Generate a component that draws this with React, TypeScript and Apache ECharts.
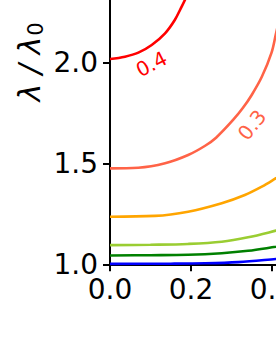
import React, { useEffect, useRef } from "react";
import * as echarts from "echarts";

const xTicks = [0, 0.2, 0.4];
const yTicks = [1.0, 1.5, 2.0];

const curve04: [number, number][] = [
  [0, 2.018], [0.037, 2.03], [0.07, 2.05], [0.103, 2.088], [0.136, 2.146], [0.16, 2.212],
  [0.177, 2.278], [0.185, 2.311], [0.195, 2.36],
];
const curve03: [number, number][] = [
  [0, 1.476], [0.07, 1.479], [0.136, 1.501], [0.193, 1.542], [0.235, 1.588], [0.262, 1.628],
  [0.304, 1.716], [0.328, 1.775], [0.35, 1.84], [0.375, 1.93], [0.399, 2.05], [0.41, 2.145], [0.42, 2.23],
];
const curve02: [number, number][] = [
  [0, 1.236], [0.111, 1.24], [0.193, 1.261], [0.276, 1.303], [0.333, 1.344], [0.375, 1.385],
  [0.41, 1.427], [0.42, 1.44],
];
const curve015: [number, number][] = [
  [0, 1.095], [0.1, 1.097], [0.193, 1.101], [0.276, 1.112], [0.341, 1.134], [0.41, 1.167], [0.42, 1.173],
];
const curve01: [number, number][] = [
  [0, 1.044], [0.1, 1.045], [0.193, 1.047], [0.276, 1.055], [0.341, 1.067], [0.41, 1.087], [0.42, 1.09],
];
const curve0: [number, number][] = [
  [0, 1.002], [0.15, 1.003], [0.235, 1.005], [0.317, 1.011], [0.41, 1.026], [0.42, 1.028],
];

const FONT = "DejaVu Sans";

export default function App() {
  const ref = useRef<HTMLDivElement>(null);
  useEffect(() => {
    if (!ref.current) return;
    const chart = echarts.init(ref.current, null, { renderer: "svg" });
    const mk = (data: [number, number][], color: string, clip = true) => ({
      type: "line",
      data,
      smooth: 0.35,
      showSymbol: false,
      clip,
      lineStyle: { color, width: 2.6 },
    });
    chart.setOption({
      animation: false,
      backgroundColor: "#ffffff",
      grid: { left: 110, right: 0, top: 0, bottom: 92.7, containLabel: false, outerBoundsMode: "none" },
      xAxis: {
        type: "value",
        min: 0,
        max: 0.41,
        interval: 0.2,
        splitLine: { show: false },
        axisLine: { show: true, lineStyle: { color: "#000", width: 2 } },
        axisTick: { show: true, length: 7, lineStyle: { color: "#000", width: 2 }, customValues: xTicks },
        axisLabel: {
          customValues: xTicks,
          margin: 11,
          color: "#000",
          fontSize: 28,
          fontFamily: FONT,
          hideOverlap: false,
          formatter: (v: number) => v.toFixed(1),
        },
      },
      yAxis: {
        type: "value",
        min: 1.0,
        max: 2.311,
        interval: 0.5,
        splitLine: { show: false },
        axisLine: { show: true, lineStyle: { color: "#000", width: 2 } },
        axisTick: { show: true, length: 7, lineStyle: { color: "#000", width: 2 }, customValues: yTicks },
        axisLabel: {
          customValues: yTicks,
          margin: 12,
          color: "#000",
          fontSize: 28,
          fontFamily: FONT,
          hideOverlap: false,
          formatter: (v: number) => v.toFixed(1),
        },
      },
      series: [
        mk(curve0, "#0000ff", false),
        mk(curve01, "#008000"),
        mk(curve015, "#9acd32"),
        mk(curve02, "#ffa500"),
        mk(curve03, "#ff6347"),
        mk(curve04, "#ff0000"),
      ],
      graphic: [
        {
          type: "text",
          x: 29,
          y: 62,
          rotation: Math.PI / 2,
          style: {
            text: "{a|λ / λ}{b|0}",
            align: "center",
            verticalAlign: "middle",
            rich: {
              a: { fontSize: 30, fontFamily: FONT, fontStyle: "italic", fill: "#000" },
              b: { fontSize: 21, fontFamily: FONT, fill: "#000", padding: [13, 0, 0, 1] },
            },
          },
        },
        {
          type: "text",
          x: 151.5,
          y: 64,
          rotation: 0.47,
          style: {
            text: "0.4",
            fontSize: 20,
            fontFamily: FONT,
            fill: "#ff0000",
            align: "center",
            verticalAlign: "middle",
          },
        },
        {
          type: "text",
          x: 252,
          y: 125,
          rotation: 0.9,
          style: {
            text: "0.3",
            fontSize: 20,
            fontFamily: FONT,
            fill: "#ff6347",
            align: "center",
            verticalAlign: "middle",
          },
        },
      ],
    });
    return () => chart.dispose();
  }, []);
  return (
    <div
      ref={ref}
      style={{ position: "fixed", left: 0, top: 0, width: 276, height: 357, background: "#fff" }}
    />
  );
}
